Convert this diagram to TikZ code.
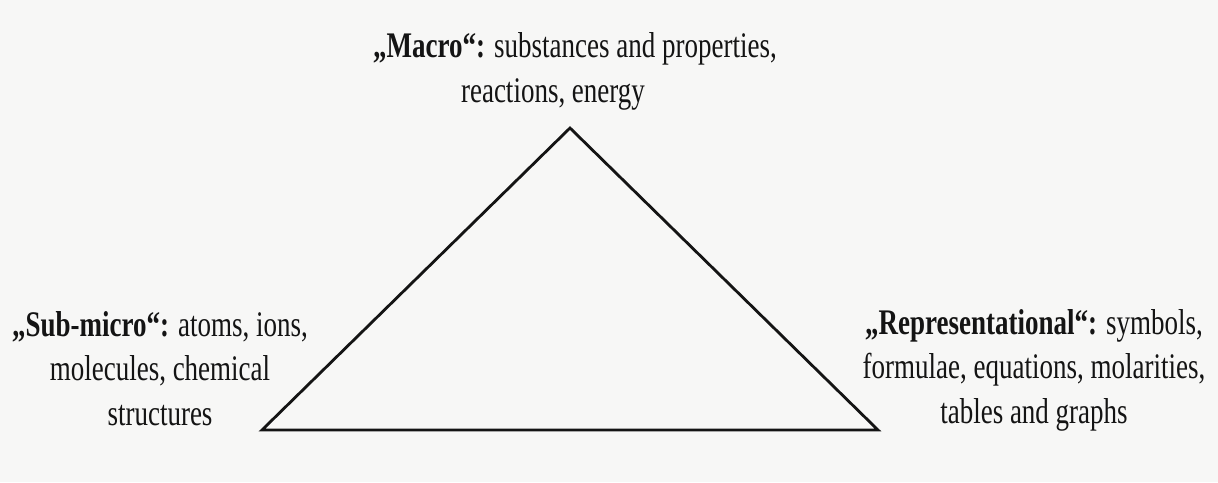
\documentclass[tikz,border=0pt]{standalone}
\usepackage{fontspec}
\setmainfont{Liberation Serif}[FakeStretch=0.75]
\definecolor{paper}{RGB}{247,247,246}
\definecolor{ink}{RGB}{20,20,20}
\tikzset{
  lbl/.style={align=center, inner sep=0pt, anchor=base, text=ink,
    font=\fontsize{36}{44.5}\selectfont},
  tri/.style={draw=ink, line width=2.8pt, line join=miter}
}
\begin{document}
\begin{tikzpicture}[x=1pt,y=-1pt]
\fill[paper] (0,0) rectangle (1218,482);
\useasboundingbox (0,0) rectangle (1218,482);
\coordinate (top) at (570,128);
\coordinate (left) at (262,430);
\coordinate (right) at (878,430);
\draw[tri] (top) -- (left) -- (right) -- cycle;
\node[lbl] (macro) at (575,102) {\textbf{„Macro“:} substances and properties,\\ reactions, energy\hspace*{44pt}};
\node[lbl] (sub) at (160,425) {\textbf{„Sub-micro“:} atoms, ions,\\ molecules, chemical\\ structures};
\node[lbl] (rep) at (1034,423) {\textbf{„Representational“:} symbols,\\ formulae, equations, molarities,\\ tables and graphs};
\end{tikzpicture}
\end{document}
